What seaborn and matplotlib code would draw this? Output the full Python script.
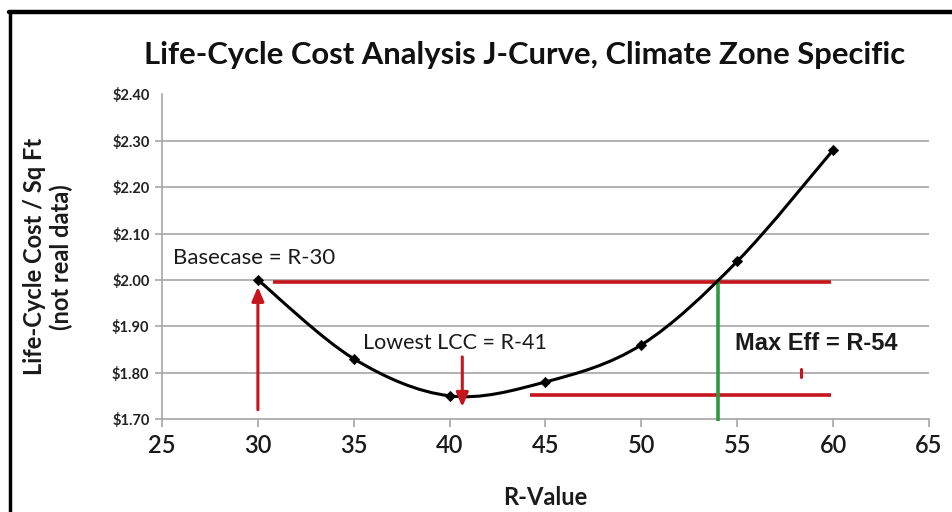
import numpy as np
import pandas as pd
import matplotlib
matplotlib.use("Agg")
import matplotlib.pyplot as plt
from matplotlib.path import Path
from matplotlib.patches import PathPatch
import matplotlib.lines as mlines
import seaborn as sns

# ---- data ----
r_values = [30, 35, 40, 45, 50, 55, 60]
lcc = [2.00, 1.83, 1.75, 1.78, 1.86, 2.04, 2.28]
x_ticks = [25, 30, 35, 40, 45, 50, 55, 60, 65]
y_ticks = [1.70, 1.80, 1.90, 2.00, 2.10, 2.20, 2.30, 2.40]
y_tick_labels = ["$1.70", "$1.80", "$1.90", "$2.00", "$2.10", "$2.20", "$2.30", "$2.40"]
title = "Life-Cycle Cost Analysis J-Curve, Climate Zone Specific"
xlabel = "R-Value"
ylabel = "Life-Cycle Cost / Sq Ft\n(not real data)"
basecase_r, basecase_cost = 30, 2.00
lowest_r = 41
maxeff_r = 54

df = pd.DataFrame({"R": r_values, "LCC": lcc})

sns.set_theme(style="white")
plt.rcParams["font.family"] = ["Lato", "DejaVu Sans"]

RED = "#c4161c"
GREEN = "#2e9a3e"
GRID = "#a6a6a6"

fig = plt.figure(figsize=(9.52, 5.12), dpi=100)
ax = fig.add_axes([0.1702, 0.1816, 0.8056, 0.634])

ax.set_xlim(25, 65)
ax.set_ylim(1.70, 2.40)

# grid lines (no top line)
for yv in y_ticks[1:-1]:
    ax.axhline(yv, color=GRID, lw=1.2, zorder=1)

# smooth curve (Catmull-Rom -> cubic Bezier)
pts = np.column_stack([r_values, lcc]).astype(float)
ext = np.vstack([pts[0], pts, pts[-1]])
verts = [tuple(pts[0])]
codes = [Path.MOVETO]
for i in range(1, len(ext) - 2):
    p0, p1, p2, p3 = ext[i - 1], ext[i], ext[i + 1], ext[i + 2]
    c1 = p1 + (p2 - p0) / 6.0
    c2 = p2 - (p3 - p1) / 6.0
    verts += [tuple(c1), tuple(c2), tuple(p2)]
    codes += [Path.CURVE4] * 3
ax.add_patch(PathPatch(Path(verts, codes), facecolor="none", edgecolor="black",
                       lw=2.2, zorder=4, transform=ax.transData))
sns.scatterplot(data=df, x="R", y="LCC", marker="D", s=28, color="black",
                edgecolor="black", zorder=5, ax=ax, legend=False)

# red horizontal lines
ax.plot([30.8, 59.9], [1.995, 1.995], color=RED, lw=2.6, zorder=3, solid_capstyle="butt")
ax.plot([44.2, 59.9], [1.752, 1.752], color=RED, lw=2.6, zorder=3, solid_capstyle="butt")
ax.plot([58.35, 58.35], [1.791, 1.807], color=RED, lw=2.2, zorder=3)

# green vertical line at max efficiency
ax.plot([maxeff_r, maxeff_r], [1.695, basecase_cost], color=GREEN, lw=2.6, zorder=3,
        solid_capstyle="butt", clip_on=False)

# arrows
ax.annotate("", xy=(basecase_r, 1.985), xytext=(basecase_r, 1.72),
            arrowprops=dict(arrowstyle="-|>,head_length=0.7,head_width=0.3",
                            color=RED, lw=2.2, shrinkA=0, shrinkB=0), zorder=6)
ax.annotate("", xy=(40.66, 1.726), xytext=(40.66, 1.834),
            arrowprops=dict(arrowstyle="-|>,head_length=0.7,head_width=0.3",
                            color=RED, lw=2.2, shrinkA=0, shrinkB=0), zorder=6)

# annotation texts
ax.text(25.55, 2.047, "Basecase = R-30", fontsize=16, ha="left", va="center",
        color="#1a1a1a", zorder=6)
ax.text(35.48, 1.864, "Lowest LCC = R-41", fontsize=15.5, ha="left", va="center",
        color="#1a1a1a", zorder=6)
ax.text(54.88, 1.862, "Max Eff = R-54", fontsize=17, fontweight="bold", ha="left",
        va="center", color="#1a1a1a", family=["Liberation Sans", "DejaVu Sans"], zorder=6)

# axes styling
for s in ["top", "right"]:
    ax.spines[s].set_visible(False)
for s in ["left", "bottom"]:
    ax.spines[s].set_color(GRID)
    ax.spines[s].set_linewidth(1.2)

ax.set_xticks(x_ticks)
ax.set_xticklabels([str(v) for v in x_ticks], fontsize=17, fontweight="semibold",
                   color="#1a1a1a")
ax.set_yticks(y_ticks)
ax.set_yticklabels(y_tick_labels, fontsize=10.5, fontweight="bold", color="#222222")
ax.tick_params(axis="x", direction="out", length=6, width=1.2, color=GRID, pad=5,
               bottom=True)
ax.tick_params(axis="y", direction="out", length=5, width=1.2, color=GRID, pad=4,
               left=True)
ax.yaxis.get_ticklines()[-2].set_visible(False)

ax.set_xlabel(xlabel, fontsize=17, fontweight="bold", color="#1a1a1a")
ax.xaxis.set_label_coords(0.5, -0.206)
ax.set_ylabel(ylabel, fontsize=17, fontweight="bold", color="#1a1a1a",
              linespacing=1.2)
ax.yaxis.set_label_coords(-0.116, 0.5)

fig.text(0.551, 0.893, title, fontsize=22.3, fontweight="bold", ha="center",
         va="center", color="#111111")

# outer frame (top and left edges)
fig.add_artist(mlines.Line2D([0.0095, 1.0], [0.977, 0.977], color="black", lw=3.2,
                             transform=fig.transFigure))
fig.add_artist(mlines.Line2D([0.0105, 0.0105], [0.0, 0.977], color="black", lw=2.5,
                             transform=fig.transFigure))

fig.savefig("out.png", dpi=100)
